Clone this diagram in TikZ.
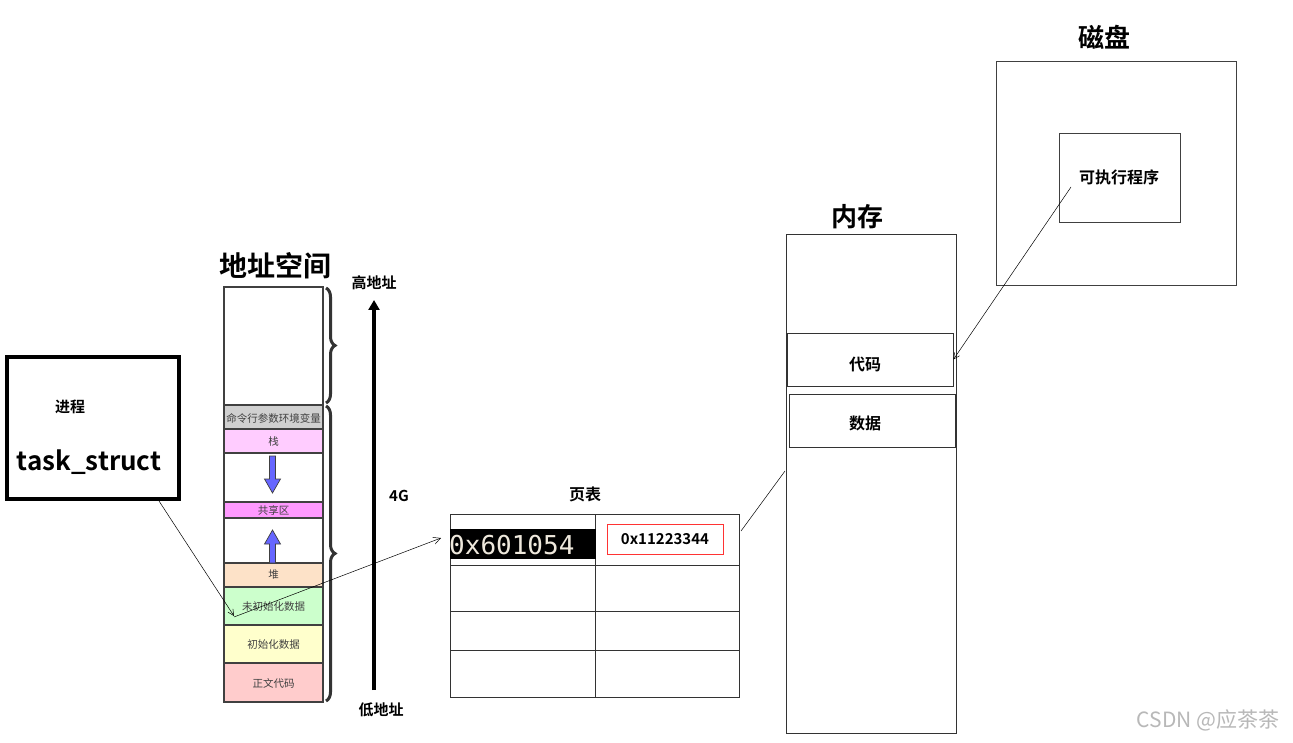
\documentclass[tikz,border=0pt]{standalone}
\usepackage{fontspec}
\setmainfont{Noto Sans CJK SC}
\newfontfamily\cjkb{Noto Sans CJK SC Bold}
\newfontfamily\monof{DejaVu Sans Mono}
\usetikzlibrary{decorations.pathreplacing,arrows.meta}
\definecolor{colgray}{RGB}{208,208,208}
\definecolor{colstack}{RGB}{255,204,255}
\definecolor{colshare}{RGB}{255,153,255}
\definecolor{colheap}{RGB}{253,226,200}
\definecolor{colbss}{RGB}{204,255,204}
\definecolor{coldata}{RGB}{255,255,204}
\definecolor{coltext}{RGB}{255,204,204}
\definecolor{colblue}{RGB}{102,102,255}
\definecolor{dkgray}{RGB}{64,64,64}
\definecolor{mono}{RGB}{238,232,220}
\begin{document}
\begin{tikzpicture}[x=1pt,y=-1pt,
  seg/.style={draw=dkgray,line width=1.5pt,inner sep=0pt,anchor=north west},
  seglbl/.style={font=\fontsize{10.5}{12}\selectfont,text=dkgray},
  box/.style={draw=black!80,line width=0.8pt},
  ttl/.style={font=\cjkb\fontsize{28}{30}\selectfont},
  lbl/.style={font=\cjkb\fontsize{16}{18}\selectfont},
  thin/.style={draw=black,line width=0.5pt},
  brc/.style={draw=black!80,line width=3pt,decorate,decoration={brace,amplitude=9pt}},
  fatarrow/.style={fill=colblue,draw=dkgray,line width=0.7pt}]
\useasboundingbox (0,0) rectangle (1293,743);
\fill[white] (0,0) rectangle (1293,743);

% address space column
\node[ttl] (astitle) at (275,266) {地址空间};
\filldraw[seg,fill=colgray] (224,405) rectangle (323,429);
\node[seglbl] (sArgs) at (273.5,418) {命令行参数环境变量};
\filldraw[seg,fill=colstack] (224,429) rectangle (323,453);
\node[seglbl] (sStack) at (273.5,442) {栈};
\draw[seg] (224,453) rectangle (323,502);
\filldraw[seg,fill=colshare] (224,502) rectangle (323,518);
\node[seglbl] (sShare) at (273.5,510) {共享区};
\draw[seg] (224,518) rectangle (323,563);
\filldraw[seg,fill=colheap] (224,563) rectangle (323,587);
\node[seglbl] (sHeap) at (273.5,575) {堆};
\filldraw[seg,fill=colbss] (224,587) rectangle (323,625);
\node[seglbl] (sBss) at (273.5,607) {未初始化数据};
\filldraw[seg,fill=coldata] (224,625) rectangle (323,663);
\node[seglbl] (sData) at (273.5,645) {初始化数据};
\filldraw[seg,fill=coltext] (224,663) rectangle (323,702);
\node[seglbl] (sText) at (273.5,683) {正文代码};
\draw[seg] (224,287) rectangle (323,702);

% blue arrows
\draw[fatarrow] (269.5,456) -- (275.5,456) -- (275.5,479) -- (280.5,479) -- (272.5,493) -- (264.5,479) -- (269.5,479) -- cycle;
\draw[fatarrow] (269.5,563) -- (275.5,563) -- (275.5,544) -- (280.5,544) -- (272.5,530) -- (264.5,544) -- (269.5,544) -- cycle;

% braces
\draw[brc] (326,288) -- (326,403);
\draw[brc] (326,406) -- (326,701);

% vertical address arrow
\coordinate (lowA) at (374,690);
\coordinate (highA) at (374,300);
\draw[line width=3.5pt,-{Triangle[width=11pt,length=10pt]}] (lowA) -- (highA);
\node[font=\cjkb\fontsize{15}{17}\selectfont] (hi) at (374,283) {高地址};
\node[font=\cjkb\fontsize{15}{17}\selectfont] (lo) at (381,710) {低地址};
\node[font=\cjkb\fontsize{15}{17}\selectfont] (fourG) at (399,496) {4G};

% task_struct
\draw[line width=4pt] (7,357) rectangle (179,499);
\node[font=\cjkb\fontsize{15}{17}\selectfont] (proc) at (70,407) {进程};
\node[font=\cjkb\fontsize{26}{28}\selectfont] (ts) at (89,462) {task\_struct};
\coordinate (tsOut) at (159,501);
\coordinate (bssIn) at (234,616);
\draw[thin,-{Straight Barb[length=6pt,width=6pt]}] (tsOut) -- (bssIn);

% page table
\node[lbl] (ptTitle) at (585,494) {页表};
\draw[box] (450,514) rectangle (739,697);
\draw[box] (595,514) -- (595,697);
\draw[box] (450,565) -- (739,565);
\draw[box] (450,611) -- (739,611);
\draw[box] (450,650) -- (739,650);
\fill[black] (450,529) rectangle (596,559);
\node[font=\monof\fontsize{26}{28}\selectfont,text=mono,anchor=west,inner sep=0pt] (va) at (449,545) {0x601054};
\node[draw=red!80,line width=0.8pt,minimum width=116pt,minimum height=30pt,inner sep=0pt,font=\cjkb\fontsize{15}{17}\selectfont] (pa) at (665,539) {0x11223344};
\coordinate (ptIn) at (441,538);
\coordinate (bssOut) at (234,617);
\draw[thin,-{Straight Barb[length=7pt,width=7pt]}] (bssOut) -- (ptIn);
\coordinate (ptOut) at (741,531);

% memory
\node[ttl,font=\cjkb\fontsize{26}{28}\selectfont] (memTitle) at (857,217) {内存};
\draw[line width=1pt,draw=black!80] (786,235) rectangle (956,733);
\node[box,minimum width=166pt,minimum height=53pt,inner sep=0pt] (code) at (870,359.5) {};
\node[lbl] (codeLbl) at (865,364) {代码};
\node[box,minimum width=166pt,minimum height=53pt,inner sep=0pt] (mdata) at (872,420.5) {};
\node[lbl] (mdataLbl) at (865,423) {数据};
\coordinate (memIn) at (785,471);
\draw[thin] (ptOut) -- (memIn);

% disk
\node[ttl,font=\cjkb\fontsize{26}{28}\selectfont] (diskTitle) at (1104,37) {磁盘};
\draw[line width=0.8pt,draw=black!75] (996,61) rectangle (1236,285);
\node[draw=black!75,line width=0.8pt,minimum width=121pt,minimum height=89pt,inner sep=0pt] (exe) at (1119.5,177.5) {};
\node[lbl] (exeLbl) at (1119,177) {可执行程序};
\coordinate (exeOut) at (1071,187);
\draw[thin,-{Straight Barb[length=6pt,width=6pt]}] (exeOut) -- (code.east);

% watermark
\node[font=\fontsize{21}{23}\selectfont,text=black!28] (wm) at (1208,720) {CSDN @应茶茶};
\end{tikzpicture}
\end{document}
